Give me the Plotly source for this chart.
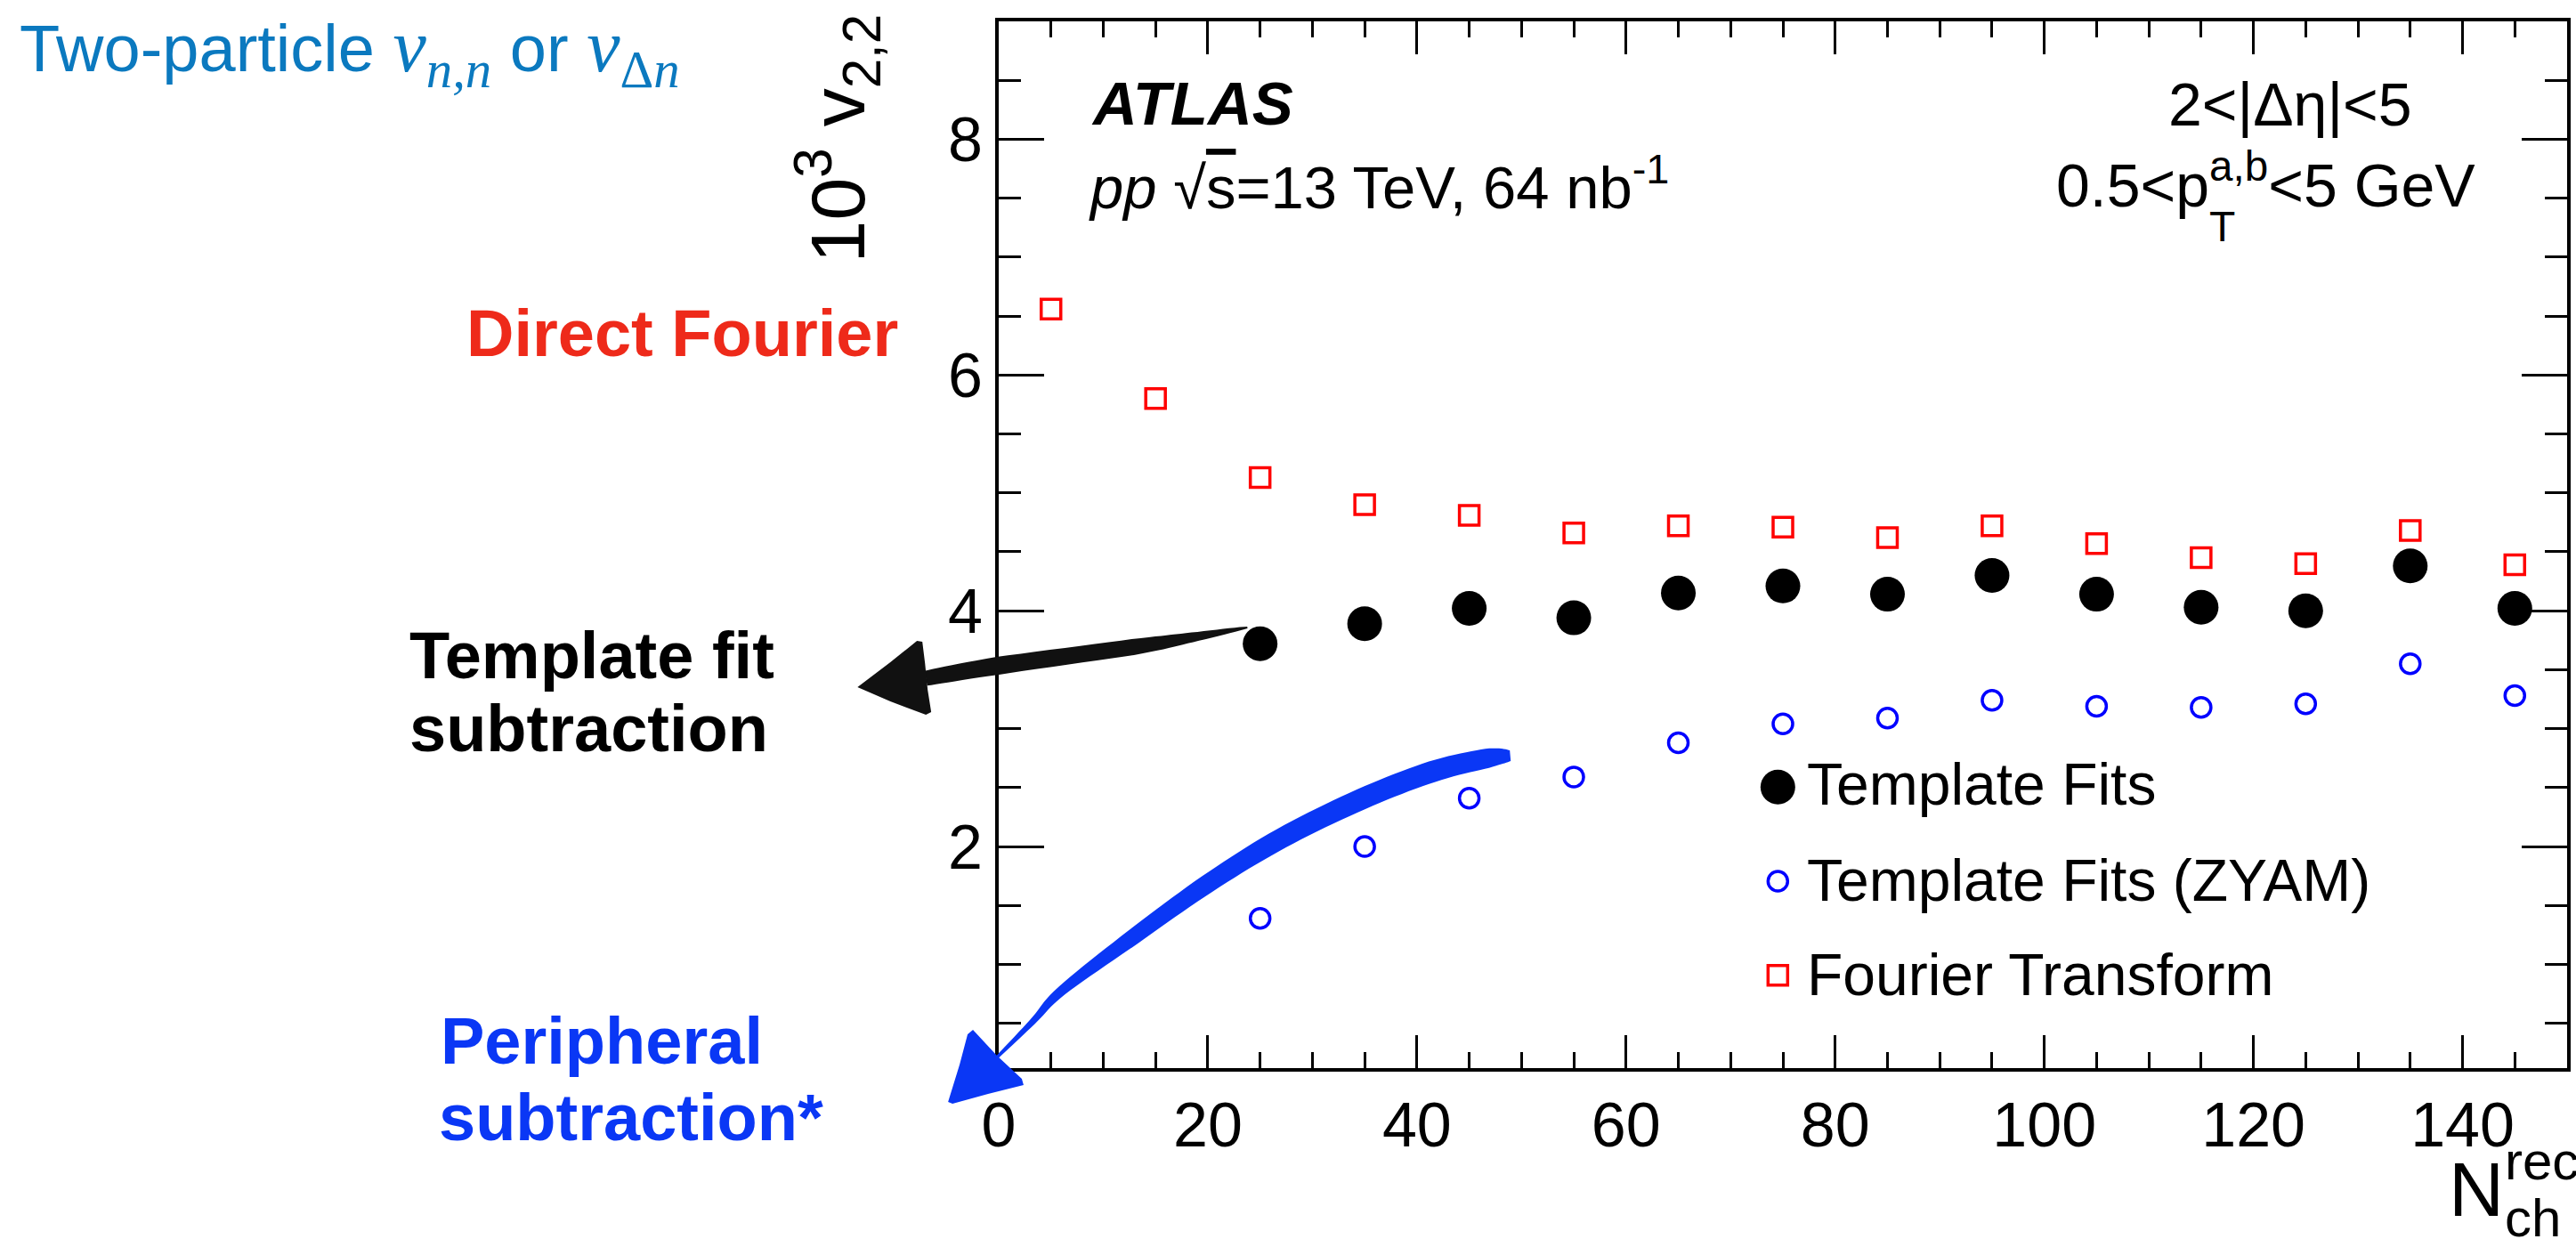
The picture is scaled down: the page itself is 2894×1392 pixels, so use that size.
import math
import plotly.graph_objects as go

# ---------------- data ----------------
nch_fourier = [5, 15, 25, 35, 45, 55, 65, 75, 85, 95, 105, 115, 125, 135, 145]
v22_fourier = [6.56, 5.80, 5.13, 4.90, 4.81, 4.66, 4.72, 4.71, 4.62, 4.72, 4.57, 4.45, 4.40, 4.68, 4.39]

nch_template = [25, 35, 45, 55, 65, 75, 85, 95, 105, 115, 125, 135, 145]
v22_template = [3.72, 3.89, 4.02, 3.94, 4.15, 4.21, 4.14, 4.30, 4.14, 4.03, 4.00, 4.38, 4.02]
v22_zyam = [1.39, 2.00, 2.41, 2.59, 2.88, 3.04, 3.09, 3.24, 3.19, 3.18, 3.21, 3.55, 3.28]

x_tick_vals = [0, 20, 40, 60, 80, 100, 120, 140]
y_tick_vals = [2, 4, 6, 8]

legend_labels = ["Template Fits", "Template Fits (ZYAM)", "Fourier Transform"]

# ---------------- layout geometry ----------------
W, H = 2894, 1392
L, R, T, B = 1122, 6, 24, 192
PW, PH = W - L - R, H - T - B
FONT = "Liberation Sans, Arial, Helvetica, sans-serif"


def xp(px):
    return (px - L) / PW


def yp(py):
    return (H - B - py) / PH


def ann(text, px, py, size, xanchor="left", yanchor="middle", color="black", angle=0, family=FONT):
    return dict(text=text, x=xp(px), y=yp(py), xref="paper", yref="paper",
                xanchor=xanchor, yanchor=yanchor, showarrow=False, borderpad=0,
                textangle=angle, font=dict(size=size, color=color, family=family))


def ann_base(text, px_left, baseline, size, color="black", xanchor="left"):
    return ann(text, px_left, baseline + 0.212 * size, size, xanchor=xanchor,
               yanchor="bottom", color=color)


def catmull(pts, widths, n=10):
    out, ws = [], []
    P = [pts[0]] + pts + [pts[-1]]
    for i in range(1, len(P) - 2):
        p0, p1, p2, p3 = P[i - 1], P[i], P[i + 1], P[i + 2]
        w1, w2 = widths[i - 1], widths[i]
        for k in range(n):
            t = k / n
            t2, t3 = t * t, t * t * t
            x = 0.5 * (2 * p1[0] + (-p0[0] + p2[0]) * t + (2 * p0[0] - 5 * p1[0] + 4 * p2[0] - p3[0]) * t2 + (-p0[0] + 3 * p1[0] - 3 * p2[0] + p3[0]) * t3)
            y = 0.5 * (2 * p1[1] + (-p0[1] + p2[1]) * t + (2 * p0[1] - 5 * p1[1] + 4 * p2[1] - p3[1]) * t2 + (-p0[1] + 3 * p1[1] - 3 * p2[1] + p3[1]) * t3)
            out.append((x, y))
            ws.append(w1 + (w2 - w1) * t)
    out.append(pts[-1])
    ws.append(widths[-1])
    return out, ws


def poly_path(poly):
    return "M " + " L ".join(f"{xp(x):.5f},{yp(y):.5f}" for x, y in poly) + " Z"


def stroke_path(pts, widths):
    pts, widths = catmull(pts, widths)
    left, right = [], []
    m = len(pts)
    for i, (x, y) in enumerate(pts):
        a = pts[max(i - 1, 0)]
        b = pts[min(i + 1, m - 1)]
        dx, dy = b[0] - a[0], b[1] - a[1]
        nrm = math.hypot(dx, dy) or 1.0
        nx, ny = -dy / nrm, dx / nrm
        w = widths[i] / 2.0
        left.append((x + nx * w, y + ny * w))
        right.append((x - nx * w, y - ny * w))
    return poly_path(left + right[::-1])


fig = go.Figure()

fig.add_trace(go.Scatter(
    x=nch_fourier, y=v22_fourier, mode="markers", name=legend_labels[2],
    marker=dict(symbol="square-open", size=22, color="#ff0000", line=dict(width=3.5, color="#ff0000"))))
fig.add_trace(go.Scatter(
    x=nch_template, y=v22_zyam, mode="markers", name=legend_labels[1],
    marker=dict(symbol="circle-open", size=22, color="#0000ff", line=dict(width=3.5, color="#0000ff"))))
fig.add_trace(go.Scatter(
    x=nch_template, y=v22_template, mode="markers", name=legend_labels[0],
    marker=dict(symbol="circle", size=39, color="black")))

axis_common = dict(showline=True, linecolor="black", linewidth=4, mirror="ticks",
                   ticks="inside", tickcolor="black", tickwidth=3, showgrid=False,
                   zeroline=False, tickfont=dict(size=70, family=FONT, color="black"))

fig.update_xaxes(range=[0, 150], tickvals=x_tick_vals, ticklen=37,
                 minor=dict(dtick=5, tick0=0, ticklen=18, tickwidth=3, ticks="inside", tickcolor="black"),
                 **axis_common)
fig.update_yaxes(range=[0.12, 9.0], tickvals=y_tick_vals, ticklen=51,
                 minor=dict(dtick=0.5, tick0=0, ticklen=25, tickwidth=3, ticks="inside", tickcolor="black"),
                 **axis_common)

shapes = []
# black brush arrow (template fit)
shapes.append(dict(type="path", xref="paper", yref="paper", line=dict(width=0), fillcolor="#111111",
                   path=stroke_path([(1040, 762), (1121, 748), (1273, 727), (1340, 716), (1402, 705)],
                                    [17, 20, 18, 11, 2])))
shapes.append(dict(type="path", xref="paper", yref="paper", line=dict(width=0), fillcolor="#111111",
                   path=poly_path([(963, 772), (1000, 744), (1030, 720), (1036, 721), (1039, 745),
                                   (1042, 775), (1046, 800), (1040, 803), (1000, 788)])))
# blue brush arrow (peripheral subtraction)
blue = "#0a37f5"
shapes.append(dict(type="path", xref="paper", yref="paper", line=dict(width=0), fillcolor=blue,
                   path=stroke_path([(1118, 1190), (1160, 1148), (1193, 1113), (1273, 1053), (1357, 993),
                                     (1440, 942), (1530, 898), (1610, 867), (1672, 852), (1698, 849)],
                                    [3, 7, 11, 18, 21, 23, 24, 24, 22, 12])))
shapes.append(dict(type="path", xref="paper", yref="paper", line=dict(width=0), fillcolor=blue,
                   path=poly_path([(1065, 1238), (1078, 1196), (1087, 1162), (1093, 1157), (1120, 1186),
                                   (1148, 1212), (1150, 1219), (1110, 1229), (1070, 1240)])))

# legend symbols
lx = 1999.3
rows = [884.3, 990.0, 1095.7]
shapes.append(dict(type="circle", xref="paper", yref="paper", xsizemode="pixel", ysizemode="pixel",
                   xanchor=xp(lx), yanchor=yp(rows[0]), x0=-19.5, x1=19.5, y0=-19.5, y1=19.5,
                   fillcolor="black", line=dict(width=0)))
shapes.append(dict(type="circle", xref="paper", yref="paper", xsizemode="pixel", ysizemode="pixel",
                   xanchor=xp(lx), yanchor=yp(rows[1]), x0=-11, x1=11, y0=-11, y1=11,
                   line=dict(width=3.5, color="#0000ff")))
shapes.append(dict(type="rect", xref="paper", yref="paper", xsizemode="pixel", ysizemode="pixel",
                   xanchor=xp(lx), yanchor=yp(rows[2]), x0=-11, x1=11, y0=-11, y1=11,
                   line=dict(width=3.5, color="#ff0000")))

annotations = []
for lab, ry in zip(legend_labels, [881, 988.8, 1095]):
    annotations.append(ann(lab, 2031, ry, 66))

# in-plot labels
annotations.append(ann_base("<b><i>ATLAS</i></b>", 1225, 141.7, 69))
annotations.append(ann_base("<i>pp</i> √<span style=\"text-decoration:overline\">s</span>=13 TeV, 64 nb<sup>-1</sup>",
                            1222, 235, 67))
annotations.append(ann_base("2<|Δη|<5", 2576, 141.7, 68, xanchor="center"))
annotations.append(ann_base("0.5<p<sup>a,b</sup><5 GeV", 2312, 233, 68))
annotations.append(ann_base("T", 2484, 272, 48))

# axis titles
annotations.append(ann("10<sup>3</sup> v<sub>2,2</sub>", 940, 296, 86, xanchor="center", yanchor="bottom", angle=-90))
annotations.append(ann_base("N", 2754, 1367, 86))
annotations.append(ann_base("rec", 2817, 1326, 60))
annotations.append(ann_base("ch", 2817, 1390, 60))

# side labels
annotations.append(ann(
    "Two-particle <span style=\"font-family:Liberation Serif;font-size:84px\"><i>v</i><sub><i>n,n</i></sub></span>"
    " or <span style=\"font-family:Liberation Serif;font-size:84px\"><i>v</i><sub>Δ<i>n</i></sub></span>",
    18, 4, 74, yanchor="top", color="#0b79bf"))
annotations.append(ann("<b>Direct Fourier</b>", 522, 374, 74, color="#ee2a1a"))
annotations.append(ann("<b>Template fit</b>", 457, 736.5, 74))
annotations.append(ann("<b>subtraction</b>", 457, 818.5, 74))
annotations.append(ann("<b>Peripheral</b>", 493, 1169.5, 74, color=blue))
annotations.append(ann("<b>subtraction*</b>", 491, 1255.5, 74, color=blue))

fig.update_layout(width=W, height=H, autosize=False,
                  margin=dict(l=L, r=R, t=T, b=B, pad=0),
                  paper_bgcolor="white", plot_bgcolor="white", showlegend=False,
                  font=dict(family=FONT, color="black"),
                  shapes=shapes, annotations=annotations)

fig.write_html("out.html")
